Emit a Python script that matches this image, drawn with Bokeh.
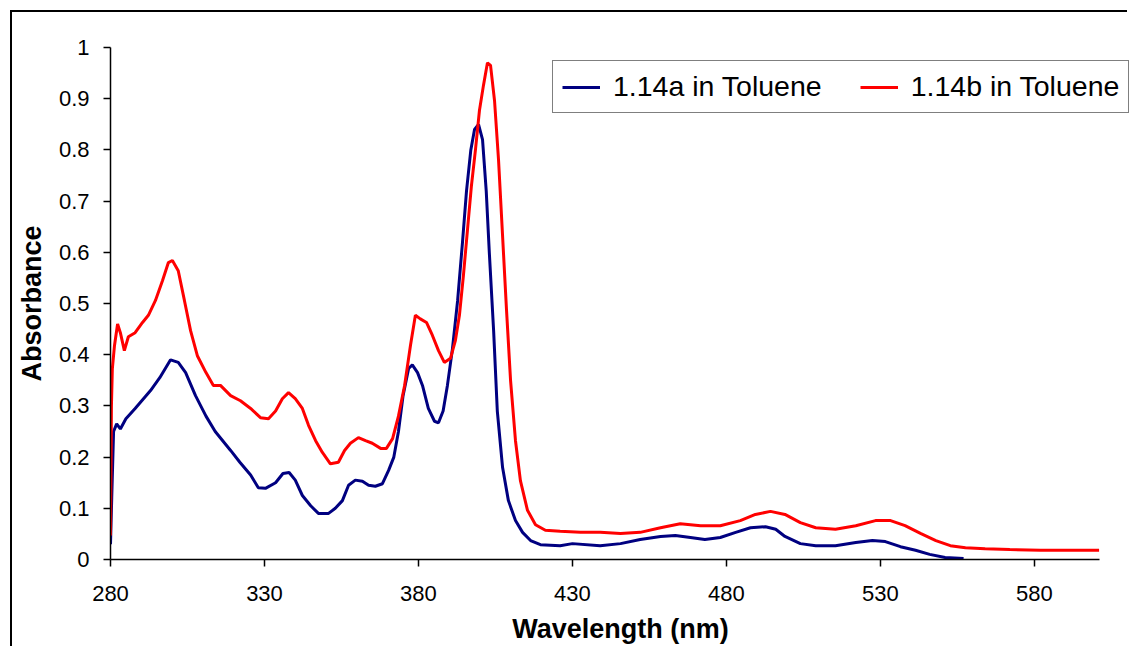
from bokeh.plotting import figure
from bokeh.models import (FixedTicker, CustomJSTickFormatter, Legend, LegendItem,
                          ColumnDataSource, Range1d)
from bokeh.embed import file_html
from bokeh.resources import INLINE

# ---- data ----
wl_a = [280, 280.4, 281, 282, 283.2, 285, 288, 293, 296, 299.5, 302, 304.4, 307.6, 311, 314,
        319, 322, 325.5, 328, 330.3, 333.6, 336, 338, 340, 342.3, 345, 347.5, 350.8, 353,
        355.3, 357.3, 359.5, 361.8, 363.8, 366, 368.3, 370.3, 372, 373.5, 375, 376.8, 378,
        379.7, 381.3, 383.2, 385.2, 386.5, 388, 389.4, 391, 392.7, 394.3, 395.6, 397, 398.2,
        399.5, 400.8, 402, 403, 404.4, 405.6, 407.3, 409.2, 411.5, 413.8, 416.4, 419.6, 426,
        430, 439, 445.6, 452, 458.6, 463.4, 468.3, 473, 478, 483, 487.8, 492.7, 496, 499,
        504, 509, 515.4, 522, 527.4, 531.6, 536.5, 541.4, 546, 551, 557]
abs_a = [0.03, 0.12, 0.25, 0.265, 0.255, 0.275, 0.295, 0.33, 0.355, 0.39, 0.385, 0.365, 0.32,
         0.28, 0.25, 0.213, 0.19, 0.165, 0.14, 0.139, 0.15, 0.168, 0.17, 0.155, 0.125, 0.105,
         0.09, 0.09, 0.1, 0.115, 0.145, 0.155, 0.153, 0.145, 0.143, 0.148, 0.174, 0.2, 0.25,
         0.32, 0.373, 0.38, 0.365, 0.34, 0.295, 0.27, 0.267, 0.29, 0.34, 0.41, 0.505, 0.62,
         0.72, 0.8, 0.84, 0.85, 0.82, 0.72, 0.6, 0.447, 0.29, 0.18, 0.115, 0.076, 0.053, 0.037,
         0.029, 0.027, 0.031, 0.027, 0.031, 0.039, 0.045, 0.047, 0.043, 0.039, 0.043, 0.053,
         0.062, 0.064, 0.059, 0.045, 0.031, 0.027, 0.027, 0.033, 0.037, 0.035, 0.025, 0.018,
         0.01, 0.004, 0.002]

wl_b = [280, 280.3, 280.6, 281.3, 282.3, 283.2, 284.5, 285.8, 288, 290.4, 292.3, 294.6, 296.9,
        298.8, 300.1, 302, 304, 306, 308.2, 311, 313.4, 315.7, 319, 322.2, 325.5, 328.7, 331.3,
        333.6, 335.8, 337.8, 340, 342.3, 344.3, 346.6, 348.8, 351.4, 354, 356, 357.9, 360.5,
        362.8, 365, 367.7, 369.6, 371.6, 373.5, 375.5, 377.4, 379, 380.6, 382.6, 384.5, 386.5,
        388.4, 390.4, 392, 393.3, 394.6, 395.9, 397.2, 398.5, 399.8, 401.1, 402.4, 403.4,
        404.7, 406, 407.3, 408.6, 409.9, 411.5, 413.1, 415.4, 418, 421.2, 426, 432.6, 439,
        445.6, 452, 458.6, 465, 471.6, 478, 484.5, 489.4, 494.3, 499, 504, 509, 515.4, 522,
        528.4, 533.3, 538, 543, 548, 552.7, 557.6, 564, 572, 582, 601]
abs_b = [0.047, 0.3, 0.373, 0.418, 0.46, 0.443, 0.408, 0.435, 0.443, 0.463, 0.477, 0.506, 0.545,
         0.58, 0.584, 0.564, 0.506, 0.447, 0.398, 0.365, 0.34, 0.34, 0.32, 0.31, 0.295, 0.277,
         0.275, 0.29, 0.314, 0.326, 0.314, 0.295, 0.262, 0.232, 0.209, 0.187, 0.19, 0.213,
         0.227, 0.238, 0.232, 0.227, 0.217, 0.217, 0.236, 0.28, 0.34, 0.418, 0.477, 0.47,
         0.463, 0.438, 0.408, 0.385, 0.393, 0.428, 0.477, 0.555, 0.643, 0.73, 0.8, 0.877,
         0.926, 0.97, 0.965, 0.896, 0.78, 0.633, 0.486, 0.35, 0.232, 0.154, 0.096, 0.068,
         0.057, 0.055, 0.053, 0.053, 0.051, 0.053, 0.062, 0.07, 0.066, 0.066, 0.076, 0.088,
         0.094, 0.088, 0.072, 0.062, 0.059, 0.066, 0.076, 0.076, 0.066, 0.051, 0.037, 0.027,
         0.023, 0.021, 0.0195, 0.018, 0.018]

series_names = ["1.14a in Toluene", "1.14b in Toluene"]
series_colors = ["#000080", "#FF0000"]
x_ticks = [280, 330, 380, 430, 480, 530, 580]
y_ticks = [0, 0.1, 0.2, 0.3, 0.4, 0.5, 0.6, 0.7, 0.8, 0.9, 1.0]

FONT = "Liberation Sans"

p = figure(width=1132, height=646, output_backend="svg", toolbar_location=None,
           x_range=Range1d(280, 611.2), y_range=Range1d(0, 1),
           min_border_left=110, min_border_right=2, min_border_top=47, min_border_bottom=87)
p.background_fill_color = "white"
p.border_fill_alpha = 0
p.outline_line_color = None
p.xgrid.grid_line_color = None
p.ygrid.grid_line_color = None
p.styles = {
    "background": "linear-gradient(#000,#000) 10px 10px / 2px 100% no-repeat, "
                  "linear-gradient(#000,#000) 10px 10px / 1117px 2px no-repeat, #fff"
}

fmt = CustomJSTickFormatter(code="return (Math.round(tick*10)/10).toString();")
for ax, ticks in ((p.xaxis[0], x_ticks), (p.yaxis[0], y_ticks)):
    ax.ticker = FixedTicker(ticks=ticks)
    ax.formatter = fmt
    ax.axis_line_color = "black"
    ax.axis_line_width = 1.5
    ax.major_tick_line_color = "black"
    ax.major_tick_line_width = 1.5
    ax.major_tick_in = 0
    ax.major_tick_out = 7
    ax.minor_tick_line_color = None
    ax.major_label_text_font = FONT
    ax.major_label_text_font_size = "22px"
    ax.major_label_text_color = "black"
    ax.axis_label_text_font = FONT
    ax.axis_label_text_font_size = "27px"
    ax.axis_label_text_font_style = "bold"
    ax.axis_label_text_color = "black"

p.xaxis.bounds = (280, 601)
p.xaxis.major_label_standoff = 19
p.yaxis.major_label_standoff = 14
p.xaxis.axis_label = "Wavelength (nm)"
p.yaxis.axis_label = "Absorbance"
p.xaxis.axis_label_standoff = 10
p.yaxis.axis_label_standoff = 9

src_a = ColumnDataSource(dict(x=wl_a, y=abs_a))
src_b = ColumnDataSource(dict(x=wl_b, y=abs_b))
ra = p.line("x", "y", source=src_a, line_color=series_colors[0], line_width=3)
rb = p.line("x", "y", source=src_b, line_color=series_colors[1], line_width=3)

legend = Legend(items=[LegendItem(label=series_names[0], renderers=[ra]),
                       LegendItem(label=series_names[1], renderers=[rb])],
                orientation="horizontal", location=(442, 446),
                label_text_font=FONT, label_text_font_size="28.5px",
                label_text_color="black", glyph_width=38, glyph_height=20,
                label_standoff=13, spacing=38, padding=9, margin=0,
                border_line_color="black", border_line_width=1.5,
                background_fill_color="white", background_fill_alpha=1.0)
p.add_layout(legend, "center")

open("out.html", "w").write(file_html(p, INLINE))
